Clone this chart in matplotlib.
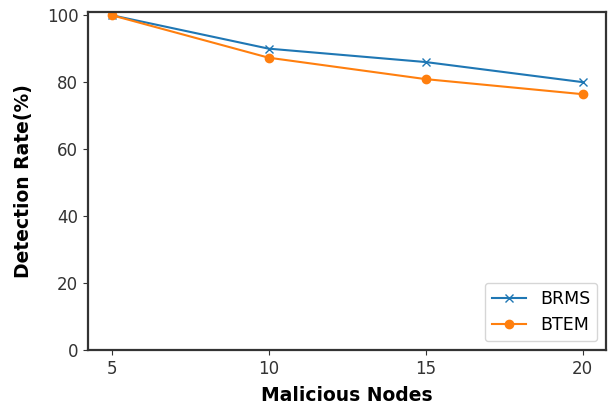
import matplotlib
matplotlib.use("Agg")
import matplotlib.pyplot as plt

# ---------------------------------------------------------------------------
# Data
# ---------------------------------------------------------------------------
malicious_nodes = [5, 10, 15, 20]
brms_rate = [100, 90, 86, 80]
btem_rate = [100, 87.3, 80.9, 76.4]

fig = plt.figure(figsize=(6.11, 4.07), dpi=100)
ax = fig.add_axes([0.144, 0.14, 0.848, 0.831])

ax.plot(malicious_nodes, brms_rate, marker="x", color="#1f77b4", label="BRMS")
ax.plot(malicious_nodes, btem_rate, marker="o", color="#ff7f0e", label="BTEM")

ax.set_ylim(0, 101)
ax.set_xticks(malicious_nodes)
ax.set_xlabel("Malicious Nodes", fontsize=13.5, fontweight="bold", labelpad=6)
ax.set_ylabel("Detection Rate(%)", fontsize=13.5, fontweight="bold", labelpad=10)
ax.tick_params(labelsize=12, colors="#333333")

for spine in ax.spines.values():
    spine.set_color("#333333")
    spine.set_linewidth(1.6)

ax.legend(loc="lower right", fontsize=12.5)

fig.savefig("out.png", dpi=100)
